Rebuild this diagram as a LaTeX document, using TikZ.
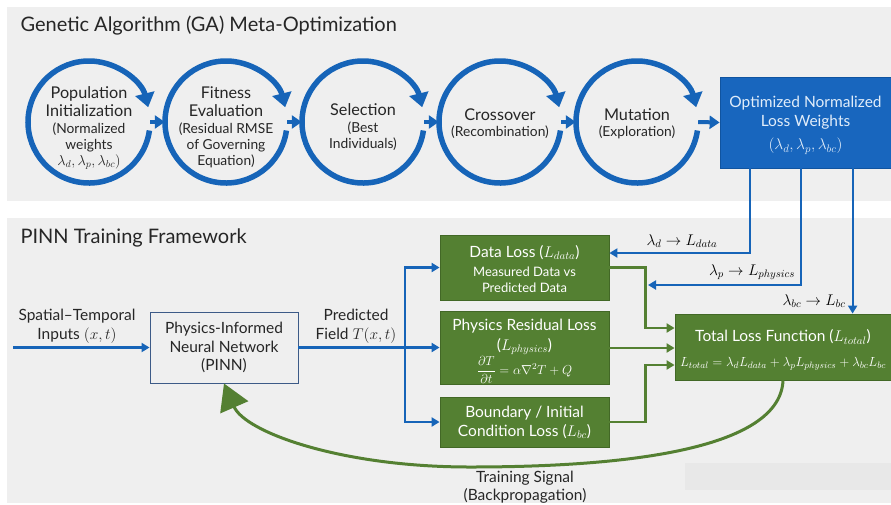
\RequirePackage{fix-cm}
\documentclass[tikz,border=0pt]{standalone}
\usepackage{fontspec}
\setmainfont{Lato}
\usetikzlibrary{arrows.meta,calc}
\definecolor{gablue}{RGB}{22,100,184}
\definecolor{boxblue}{RGB}{24,102,190}
\definecolor{boxedge}{RGB}{16,84,160}
\definecolor{gagreen}{RGB}{84,128,50}
\definecolor{gedge}{RGB}{66,104,38}
\definecolor{panel}{RGB}{239,239,239}
\definecolor{lbtext}{RGB}{225,237,250}
\definecolor{pinnedge}{RGB}{60,90,135}
\newcommand\fcm{\fontsize{16.2}{18}\selectfont}
\newcommand\fcs{\fontsize{13.8}{16.5}\selectfont}
\newcommand\fbx{\fontsize{15.5}{18.5}\selectfont}
\newcommand\fbs{\fontsize{13}{16}\selectfont}
\newcommand\feq{\fontsize{13.2}{15}\selectfont}
\newcommand\ft{\fontsize{20}{24}\selectfont}
\begin{document}
\begin{tikzpicture}[x=1pt,y=-1pt,
  ring/.style={draw=gablue,line width=5.5pt,-{Triangle[width=19pt,length=14pt]}},
  link/.style={draw=gablue,line width=4pt,-{Triangle[width=13pt,length=10pt]}},
  bline/.style={draw=gablue,line width=2.2pt,-{Triangle[width=9pt,length=8pt]}},
  gline/.style={draw=gagreen,line width=2.4pt,-{Triangle[width=9pt,length=8pt]}},
  gbox/.style={draw=gedge,line width=0.8pt,fill=gagreen,text=white,align=center,inner sep=0pt,font=\fbx},
  rtxt/.style={align=center,font=\fcm,text=black!85},
  lbl/.style={align=center,font=\fbx,text=black!85}]
\useasboundingbox (0,0) rectangle (891,504);
\fill[white] (0,0) rectangle (891,504);
\fill[panel] (7,7) rectangle (891,201);
\fill[panel] (7,218) rectangle (891,503);
\fill[black!9] (685,463) rectangle (891,490);

\node[anchor=west,font=\ft,text=black!85] (gat) at (17,26) {Genetic Algorithm (GA) Meta-Optimization};
\node[anchor=west,font=\ft,text=black!85] (ptt) at (17,238) {PINN Training Framework};

% GA circles
\foreach \i/\x in {1/89,2/226,3/363,4/500,5/637}{
  \node[circle,minimum size=122pt,inner sep=0pt] (c\i) at (\x,122) {};
  \draw[ring] (c\i.center) ++(8:61) arc[start angle=8,end angle=346,radius=61];
}
\node[rtxt] (t1) at (89,128) {Population\\Initialization\\[-1pt]\fcs(Normalized\\[-2pt]\fcs weights\\[-2pt]\fontsize{14.4}{16.5}\selectfont $\lambda_d,\lambda_p,\lambda_{bc})$};
\node[rtxt] (t2) at (226,127) {Fitness\\Evaluation\\[-1pt]\fcs(Residual RMSE\\[-2pt]\fcs of Governing\\[-2pt]\fcs Equation)};
\node[rtxt] (t3) at (363,127) {Selection\\[-1pt]\fcs(Best\\[-2pt]\fcs Individuals)};
\node[rtxt] (t4) at (500,123.5) {Crossover\\[-2pt]\fcs(Recombination)};
\node[rtxt] (t5) at (637,123.5) {Mutation\\[-2pt]\fcs(Exploration)};

\node[draw=boxedge,line width=0.8pt,fill=boxblue,minimum width=171pt,minimum height=91pt,inner sep=0pt] (opt) at (805.5,122.5) {};
\node[align=center,font=\fbx,text=lbtext] (optt) at (805.5,125.5)
  {Optimized Normalized\\Loss Weights\\[5pt]$(\lambda_d,\lambda_p,\lambda_{bc})$};

\draw[link] (c1.east) -- (c2.west);
\draw[link] (c2.east) -- (c3.west);
\draw[link] (c3.east) -- (c4.west);
\draw[link] (c4.east) -- (c5.west);
\draw[link] (c5.east) -- (opt.west);

% PINN part
\node[draw=pinnedge,line width=0.9pt,fill=panel,minimum width=148pt,minimum height=71pt,inner sep=0pt,
      align=center,font=\fbx,text=black!85] (pinn) at (224,347.5)
  {Physics-Informed\\Neural Network\\(PINN)};

\node[gbox,minimum width=169pt,minimum height=65pt] (dl) at (524.5,267.5) {};
\node[align=center,text=white,font=\fbx] (dlt) at (524.5,269)
  {Data Loss ($L_{data}$)\\[0.5pt]\fbs Measured Data vs\\[-2.5pt]\fbs Predicted Data};
\node[gbox,minimum width=169pt,minimum height=73pt] (ph) at (524.5,348) {};
\node[align=center,text=white,font=\fbx] (pht) at (524.5,351)
  {Physics Residual Loss\\[1.5pt]($L_{physics}$)\\[1pt]\fbs$\displaystyle\frac{\partial T}{\partial t}=\alpha\nabla^2T+Q$};
\node[gbox,minimum width=169pt,minimum height=50pt] (bd) at (524.5,422)
  {Boundary / Initial\\[0.5pt]Condition Loss ($L_{bc}$)};
\node[gbox,minimum width=216pt,minimum height=66pt] (tot) at (783,347) {};
\node[align=center,text=white,font=\fbx] (tott) at (783,350)
  {Total Loss Function ($L_{total}$)\\[6pt]\feq$L_{total}=\lambda_dL_{data}+\lambda_pL_{physics}+\lambda_{bc}L_{bc}$};

\node[lbl] (inl) at (77,326) {Spatial–Temporal\\Inputs $(x,t)$};
\node[lbl] (pfl) at (356,326) {Predicted\\Field $T(x,t)$};

\coordinate (in) at (13,347.5);
\coordinate (sp) at (405,347.5);
\draw[bline] (in) -- (pinn.west);
\draw[bline] (pinn.east) -- (ph.west |- pinn.east);
\draw[bline] (sp) |- (dl.west);
\draw[bline] (sp) |- (bd.west);

% green to total
\draw[gline] (dl.east) -- ++(36,0) |- ([yshift=19pt]tot.west);
\draw[gline] (ph.east) -- (ph.east -| tot.west);
\draw[gline] (bd.east) -- ++(36,0) |- ([yshift=-18pt]tot.west);

% weights down
\coordinate (wd) at ([xshift=30pt]opt.south west);
\coordinate (wp) at ([xshift=81pt]opt.south west);
\coordinate (wb) at ([xshift=133pt]opt.south west);
\coordinate (pend) at (648,285);
\draw[bline] (wd) |- ([yshift=14.5pt]dl.east);
\draw[bline] (wp) |- (pend);
\draw[bline] (wb) -- (wb |- tot.north);
\node[font=\fbx] (ld) at (682,241) {$\lambda_d\rightarrow L_{data}$};
\node[font=\fbx] (lp) at (752,272) {$\lambda_p\rightarrow L_{physics}$};
\node[font=\fbx] (lb) at (814,301) {$\lambda_{bc}\rightarrow L_{bc}$};

% feedback
\draw[draw=gagreen,line width=3pt,-{Triangle[width=30pt,length=26pt]}]
  (tot.south) .. controls (780,455) and (600,467) .. (470,467)
  .. controls (340,467) and (245,432) .. (pinn.south);
\node[lbl] (tsl) at (525,487) {Training Signal\\(Backpropagation)};
\end{tikzpicture}
\end{document}
